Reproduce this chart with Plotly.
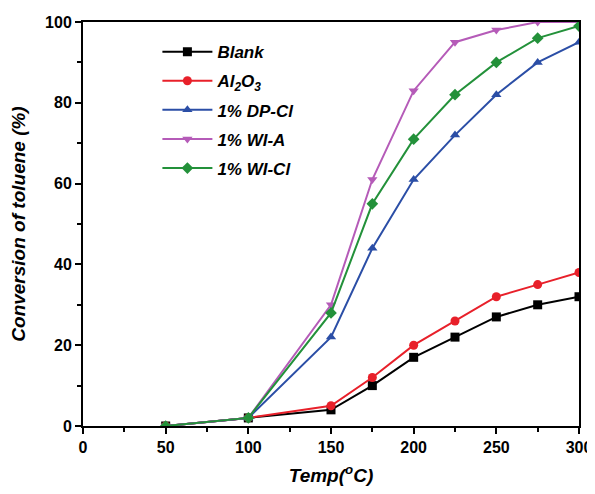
import plotly.graph_objects as go

temps = [50, 100, 150, 175, 200, 225, 250, 275, 300]
blank = [0, 2, 4, 10, 17, 22, 27, 30, 32]
al2o3 = [0, 2, 5, 12, 20, 26, 32, 35, 38]
dp_cl = [0, 2, 22, 44, 61, 72, 82, 90, 95]
wi_a = [0, 2, 30, 61, 83, 95, 98, 100, 100]
wi_cl = [0, 2, 28, 55, 71, 82, 90, 96, 99]

names = ["Blank", "Al<sub>2</sub>O<sub>3</sub>", "1% DP-Cl", "1% WI-A", "1% WI-Cl"]
series = [blank, al2o3, dp_cl, wi_a, wi_cl]
colors = ["#000000", "#e8202a", "#2b4ea6", "#b55bb8", "#23913a"]
symbols = ["square", "circle", "triangle-up", "triangle-down", "diamond"]

fig = go.Figure()
for i, (n, s, c, m) in enumerate(zip(names, series, colors, symbols)):
    fig.add_trace(go.Scatter(
        x=temps, y=s, name=n, mode="lines+markers", legendgroup=f"g{i}",
        line=dict(color=c, width=2),
        marker=dict(symbol=m, size=9, color=c),
    ))

axis_common = dict(
    showline=True, linecolor="black", linewidth=2, mirror=True,
    ticks="outside", ticklen=6, tickwidth=2, tickcolor="black",
    showgrid=False, zeroline=False, automargin=False,
    tickfont=dict(family="Arial, Liberation Sans", size=16, color="black", weight="bold"),
    minor=dict(ticks="outside", ticklen=4, tickwidth=2, tickcolor="black"),
)

fig.update_xaxes(range=[0, 300], dtick=50, minor_dtick=25,
                 title=dict(text="<b><i>Temp(<sup>o</sup>C)</i></b>", standoff=28,
                            font=dict(family="Arial, Liberation Sans", size=19, color="black")),
                 **axis_common)
fig.update_yaxes(range=[0, 100], dtick=20, minor_dtick=10,
                 title=dict(text="<b><i>Conversion of toluene (%)</i></b>", standoff=14,
                            font=dict(family="Arial, Liberation Sans", size=19, color="black")),
                 **axis_common)

fig.update_layout(
    width=587, height=478,
    margin=dict(l=75, r=16, t=14, b=60),
    plot_bgcolor="white", paper_bgcolor="white",
    legend=dict(x=0.15, y=0.97, xanchor="left", yanchor="top",
                bgcolor="rgba(0,0,0,0)", tracegroupgap=4, itemwidth=50,
                font=dict(family="Arial, Liberation Sans", size=17, color="black",
                          style="italic", weight="bold")),
    showlegend=True,
)

fig.write_html("out.html")
